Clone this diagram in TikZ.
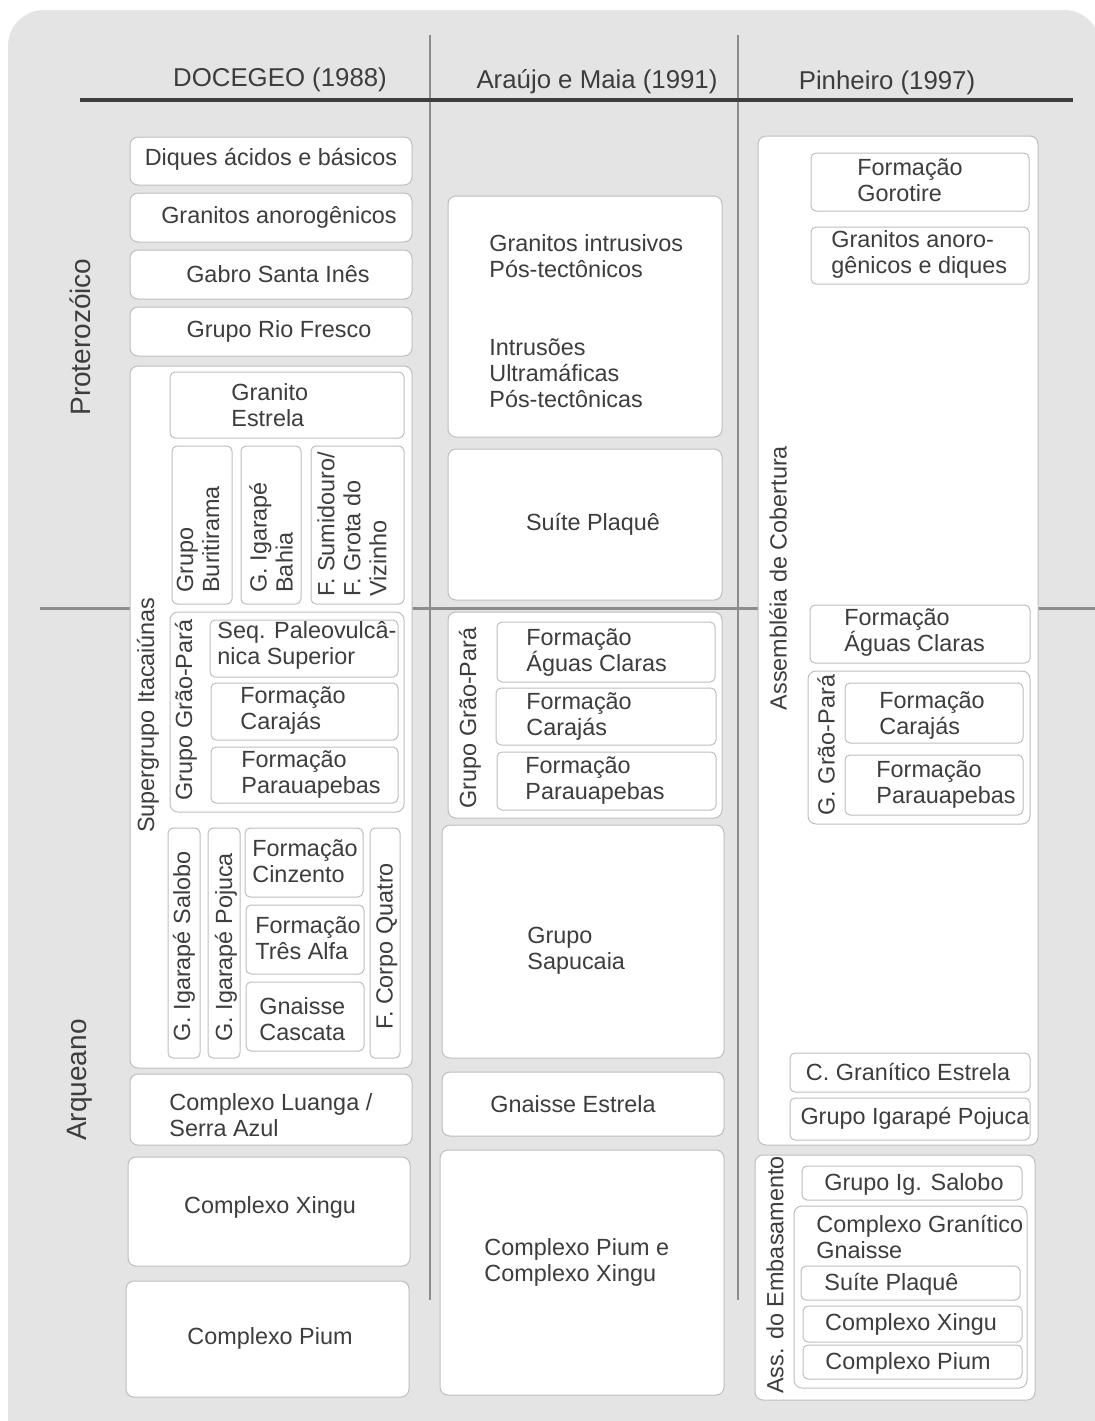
\documentclass[tikz,border=0pt]{standalone}
\usepackage{fontspec}
\setmainfont{Liberation Sans}
\usepackage{xcolor}
\definecolor{pagegray}{HTML}{E4E4E4}
\definecolor{inkgray}{HTML}{3D3D3D}
\definecolor{rulegray}{HTML}{8C8C8C}
\definecolor{edgegray}{HTML}{BEBEBE}
\tikzstyle{outer} = [draw=edgegray, fill=white, rounded corners=4pt, line width=0.5pt]
\tikzstyle{inner} = [draw=edgegray, fill=white, rounded corners=2.5pt, line width=0.5pt]
\tikzstyle{txt} = [text=inkgray, inner sep=0pt, font=\fontsize{11.7}{13}\selectfont]
\tikzstyle{ltxt} = [txt, align=left, anchor=west]
\tikzstyle{vtxt} = [txt, align=left, rotate=90, anchor=west]
\tikzstyle{vlabel} = [txt, rotate=90]
\tikzstyle{head} = [text=inkgray, inner sep=0pt, font=\fontsize{12.9}{15}\selectfont]
\tikzstyle{era} = [text=inkgray, inner sep=0pt, rotate=90, font=\fontsize{14}{16}\selectfont]

\begin{document}
\begin{tikzpicture}[x=0.5pt, y=-0.5pt]
\useasboundingbox (0,0) rectangle (1095,1421);
\clip (0,0) rectangle (1095,1421);
\fill[white] (0,0) rectangle (1095,1421);
\fill[pagegray, rounded corners=18pt] (8,10) rectangle (1100,1460);

% headings and rules
\draw[rulegray, line width=0.7pt] (430,35) -- (430,1300);
\draw[rulegray, line width=0.7pt] (738,35) -- (738,1300);
\draw[rulegray, line width=1.5pt] (40,608) -- (1095,608);
\draw[inkgray, line width=2pt] (80,100) -- (1073,100);
\node (h1) [head] at (280,80) {DOCEGEO (1988)};
\node (h2) [head] at (597,82) {Araújo e Maia (1991)};
\node (h3) [head] at (887,83) {Pinheiro (1997)};
\node (prot) [era] at (80,337) {Proterozóico};
\node (arq) [era] at (80,1080) {Arqueano};

% DOCEGEO (1988)
\draw[outer] (130,137) rectangle (412,185);
\node (diq) [txt] at (271,159) {Diques ácidos e básicos};
\draw[outer] (130,193) rectangle (412,242);
\node (granano) [txt] at (279,217) {Granitos anorogênicos};
\draw[outer] (130,250) rectangle (412,299);
\node (gabro) [txt] at (278,274) {Gabro Santa Inês};
\draw[outer] (130,307) rectangle (412,356);
\node (riofresco) [txt] at (279,331) {Grupo Rio Fresco};

\draw[outer] (130,366) rectangle (412,1068);
\node (itac) [vlabel] at (148,715) {Supergrupo Itacaiúnas};
\draw[inner] (170,372) rectangle (404,438);
\node (granest) [ltxt] at (231,405) {Granito\\Estrela};
\draw[inner] (172,446) rectangle (232,604);
\node (burit) [vtxt] at (198,593) {Grupo\\Buritirama};
\draw[inner] (241,446) rectangle (301,604);
\node (igbahia) [vtxt] at (271,593) {G. Igarapé\\Bahia};
\draw[inner] (311,446) rectangle (404,604);
\node (sumid) [vtxt] at (352,597) {F. Sumidouro/\\F. Grota do\\Vizinho};

\draw[outer] (170,612) rectangle (404,812);
\node (gp1) [vlabel] at (186,710) {Grupo Grão-Pará};
\draw[inner] (210,620) rectangle (398,677);
\node (paleo) [ltxt] at (217,645) {Seq. Paleovulcâ-\\nica Superior};
\draw[inner] (211,683) rectangle (398,740);
\node (caraj1) [ltxt] at (240,711) {Formação\\Carajás};
\draw[inner] (211,747) rectangle (398,803);
\node (parau1) [ltxt] at (241,775) {Formação\\Parauapebas};

\draw[inner] (168,828) rectangle (200,1058);
\node (salobo1) [vtxt] at (184,1042) {G. Igarapé Salobo};
\draw[inner] (208,828) rectangle (240,1058);
\node (pojuca1) [vtxt] at (226,1042) {G. Igarapé Pojuca};
\draw[inner] (245,828) rectangle (363,897);
\node (cinz) [ltxt] at (252,861) {Formação\\Cinzento};
\draw[inner] (246,905) rectangle (364,974);
\node (tresalfa) [ltxt] at (255,938) {Formação\\Três Alfa};
\draw[inner] (246,982) rectangle (364,1051);
\node (cascata) [ltxt] at (259,1019) {Gnaisse\\Cascata};
\draw[inner] (370,828) rectangle (400,1058);
\node (corpo4) [vtxt] at (387,1030) {F. Corpo Quatro};

\draw[outer] (130,1074) rectangle (412,1145);
\node (luanga) [ltxt] at (169,1115) {Complexo Luanga /\\Serra Azul};
\draw[outer] (128,1157) rectangle (410,1266);
\node (xingu1) [txt] at (270,1207) {Complexo Xingu};
\draw[outer] (126,1281) rectangle (409,1397);
\node (pium1) [txt] at (270,1338) {Complexo Pium};

% Araujo e Maia (1991)
\draw[outer] (448,196) rectangle (722,437);
\node (intrus) [ltxt] at (489,256) {Granitos intrusivos\\Pós-tectônicos};
\node (ultram) [ltxt] at (489,373) {Intrusões\\Ultramáficas\\Pós-tectônicas};
\draw[outer] (448,449) rectangle (722,600);
\node (plaque2) [txt] at (593,524) {Suíte Plaquê};

\draw[outer] (448,612) rectangle (722,818);
\node (gp2) [vlabel] at (470,718) {Grupo Grão-Pará};
\draw[inner] (497,622) rectangle (715,682);
\node (aguas2) [ltxt] at (526,653) {Formação\\Águas Claras};
\draw[inner] (496,688) rectangle (716,745);
\node (caraj2) [ltxt] at (526,717) {Formação\\Carajás};
\draw[inner] (497,752) rectangle (716,810);
\node (parau2) [ltxt] at (525,781) {Formação\\Parauapebas};

\draw[outer] (442,825) rectangle (724,1058);
\node (sapuc) [ltxt] at (527,951) {Grupo\\Sapucaia};
\draw[outer] (442,1072) rectangle (724,1136);
\node (gnest) [ltxt] at (490,1104) {Gnaisse Estrela};
\draw[outer] (440,1150) rectangle (724,1395);
\node (piumxingu) [ltxt] at (484,1262) {Complexo Pium e\\Complexo Xingu};

% Pinheiro (1997)
\draw[outer] (758,136) rectangle (1038,1145);
\node (cobert) [vlabel] at (778,578) {Assembléia de Cobertura};
\draw[inner] (811,153) rectangle (1029,211);
\node (gorot) [ltxt] at (857,180) {Formação\\Gorotire};
\draw[inner] (811,227) rectangle (1029,284);
\node (granano3) [ltxt] at (831,254) {Granitos anoro-\\gênicos e diques};
\draw[inner] (810,605) rectangle (1030,663);
\node (aguas3) [ltxt] at (844,633) {Formação\\Águas Claras};
\draw[outer] (808,671) rectangle (1030,824);
\node (gp3) [vlabel] at (826,745) {G. Grão-Pará};
\draw[inner] (845,683) rectangle (1023,743);
\node (caraj3) [ltxt] at (879,716) {Formação\\Carajás};
\draw[inner] (845,755) rectangle (1023,815);
\node (parau3) [ltxt] at (876,785) {Formação\\Parauapebas};
\draw[inner] (790,1053) rectangle (1030,1092);
\node (cgran) [txt] at (908,1072) {C. Granítico Estrela};
\draw[inner] (790,1098) rectangle (1030,1140);
\node (pojuca3) [txt] at (915,1118) {Grupo Igarapé Pojuca};

\draw[outer] (755,1155) rectangle (1035,1400);
\node (embas) [vlabel] at (775,1275) {Ass. do Embasamento};
\draw[inner] (802,1166) rectangle (1022,1200);
\node (salobo3) [txt] at (914,1184) {Grupo Ig. Salobo};
\draw[outer] (794,1206) rectangle (1027,1388);
\node (cgg) [ltxt] at (816,1237) {Complexo Granítico\\Gnaisse};
\draw[inner] (801,1266) rectangle (1020,1300);
\node (plaque3) [ltxt] at (824,1284) {Suíte Plaquê};
\draw[inner] (803,1306) rectangle (1022,1342);
\node (xingu3) [txt] at (911,1324) {Complexo Xingu};
\draw[inner] (803,1345) rectangle (1022,1379);
\node (pium3) [txt] at (908,1363) {Complexo Pium};
\end{tikzpicture}
\end{document}
